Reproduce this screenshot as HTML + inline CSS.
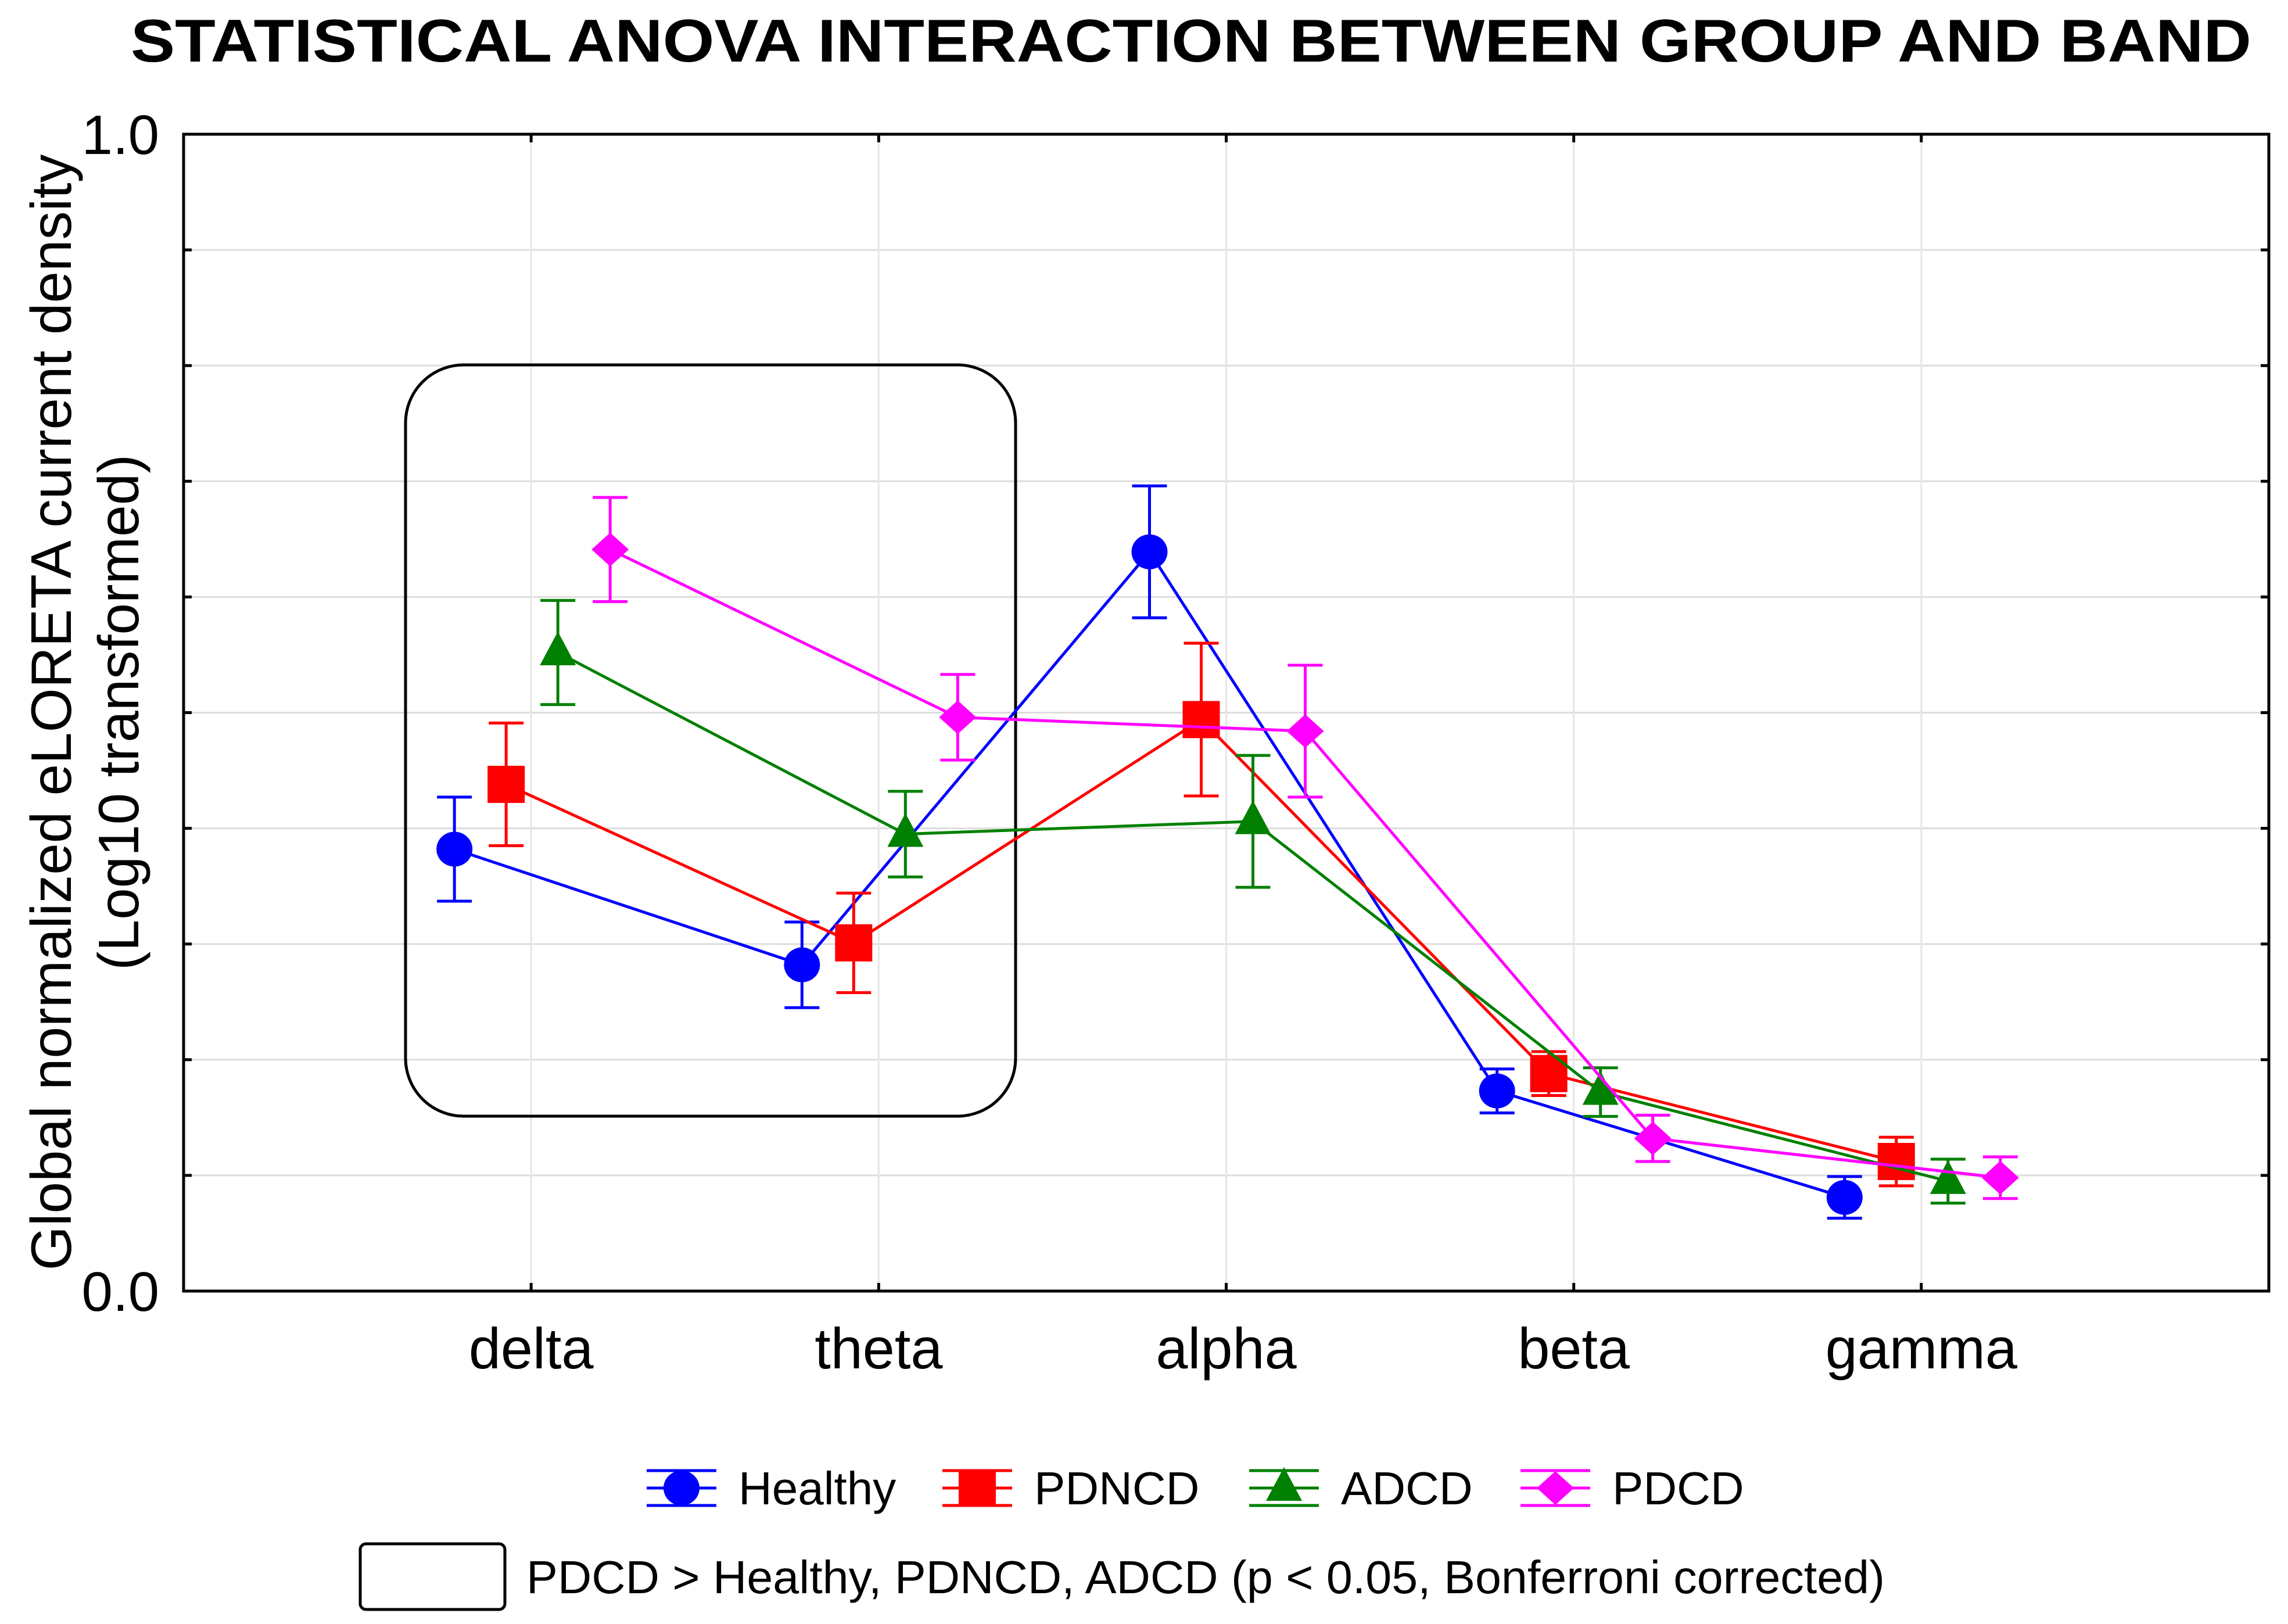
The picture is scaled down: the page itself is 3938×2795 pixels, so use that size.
<!DOCTYPE html>
<html><head><meta charset="utf-8">
<style>
html,body{margin:0;padding:0;background:#fff;}
svg{display:block;font-family:"Liberation Sans",Arial,sans-serif;}
</style></head>
<body>
<svg id="chart" width="3938" height="2795" viewBox="0 0 3938 2795" xmlns="http://www.w3.org/2000/svg">
<rect x="0" y="0" width="3938" height="2795" fill="#fff"/>
<text x="2050" y="106" text-anchor="middle" font-size="104" font-weight="bold" textLength="3650" lengthAdjust="spacingAndGlyphs">STATISTICAL ANOVA INTERACTION BETWEEN GROUP AND BAND</text>
<g id="grid"></g>
<rect x="698" y="628" width="1050" height="1293" rx="100" ry="100" fill="none" stroke="#000" stroke-width="5"/>
<g id="series"></g>
<rect x="316" y="231" width="3589" height="1991" fill="none" stroke="#000" stroke-width="5"/>
<g id="axes"></g>
<g font-size="98">
<text transform="translate(122,1226) rotate(-90)" text-anchor="middle">Global normalized eLORETA current density</text>
<text transform="translate(238,1226) rotate(-90)" text-anchor="middle">(Log10 transformed)</text>
</g>
<g id="legend"></g>
<rect x="620" y="2657" width="249" height="113" rx="10" fill="none" stroke="#000" stroke-width="5"/>
<text x="906" y="2742" font-size="80" textLength="2338" lengthAdjust="spacingAndGlyphs">PDCD &gt; Healthy, PDNCD, ADCD (p &lt; 0.05, Bonferroni corrected)</text>
</svg>
<script>
const categories = ["delta","theta","alpha","beta","gamma"];
const seriesNames = ["Healthy","PDNCD","ADCD","PDCD"];
const healthyMean = [0.382,0.282,0.639,0.173,0.081];
const healthyErr  = [0.045,0.037,0.057,0.019,0.018];
const pdncdMean   = [0.438,0.301,0.494,0.188,0.112];
const pdncdErr    = [0.053,0.043,0.066,0.019,0.021];
const adcdMean    = [0.552,0.395,0.406,0.172,0.095];
const adcdErr     = [0.045,0.037,0.057,0.021,0.019];
const pdcdMean    = [0.641,0.496,0.484,0.132,0.098];
const pdcdErr     = [0.045,0.037,0.057,0.020,0.018];
const yTickLabels = ["0.0","1.0"];

const NS="http://www.w3.org/2000/svg";
const L=316,R=3905,T=231,B=2222;
const xs=i=>L+(i+1)*(R-L)/6;
const ys=v=>B-v*(B-T);
function mk(tag,attrs,parent){const e=document.createElementNS(NS,tag);for(const k in attrs)e.setAttribute(k,attrs[k]);parent.appendChild(e);return e;}

const grid=document.getElementById('grid');
for(let k=1;k<10;k++){
  const g=mk('line',{x1:L,x2:R,y1:ys(k/10),y2:ys(k/10),stroke:'#ddd','stroke-width':3},grid);
  
  
}
categories.forEach((c,i)=>{
  const g=mk('line',{x1:xs(i),x2:xs(i),y1:T,y2:B,stroke:'#e6e6e6','stroke-width':3},grid);
  
  
});

const axes=document.getElementById('axes');
for(let k=1;k<10;k++){
  mk('line',{x1:L,x2:L+14,y1:ys(k/10),y2:ys(k/10),stroke:'#000','stroke-width':5},axes);
  mk('line',{x1:R-14,x2:R,y1:ys(k/10),y2:ys(k/10),stroke:'#000','stroke-width':5},axes);
}
categories.forEach((c,i)=>{
  mk('line',{x1:xs(i),x2:xs(i),y1:B-14,y2:B,stroke:'#000','stroke-width':5},axes);
  mk('line',{x1:xs(i),x2:xs(i),y1:T,y2:T+14,stroke:'#000','stroke-width':5},axes);
  const t=mk('text',{x:xs(i),y:2355,'text-anchor':'middle','font-size':99},axes);
  t.textContent=c;
  
  
});
yTickLabels.forEach((lab,i)=>{
  const t=mk('text',{x:274,y:ys(i)+34,'text-anchor':'end','font-size':96},axes);
  t.textContent=lab;
  
  
});

const means=[healthyMean,pdncdMean,adcdMean,pdcdMean];
const errs=[healthyErr,pdncdErr,adcdErr,pdcdErr];
const colors=['#0000ff','#ff0000','#008000','#ff00ff'];
const offsets=[-132,-43,46,136];
const shapes=['circle','square','triangle','diamond'];

function marker(shape,x,y,color,parent){
  let e;
  if(shape==='circle') e=mk('ellipse',{cx:x,cy:y,rx:31,ry:30,fill:color},parent);
  else if(shape==='square') e=mk('rect',{x:x-32,y:y-32,width:64,height:64,fill:color},parent);
  else if(shape==='triangle') e=mk('polygon',{points:`${x},${y-36} ${x+31},${y+22} ${x-31},${y+22}`,fill:color},parent);
  else e=mk('polygon',{points:`${x},${y-29} ${x+32},${y} ${x},${y+29} ${x-32},${y}`,fill:color},parent);
  return e;
}

const sg=document.getElementById('series');
means.forEach((m,s)=>{
  const g=mk('g',{},sg);
  
  
  const pts=m.map((v,i)=>`${xs(i)+offsets[s]},${ys(v)}`).join(' ');
  const pl=mk('polyline',{points:pts,fill:'none',stroke:colors[s],'stroke-width':5},g);
  
  
  m.forEach((v,i)=>{
    const x=xs(i)+offsets[s];
    const e=errs[s][i];
    const eb=mk('path',{d:`M${x},${ys(v+e)}V${ys(v-e)}M${x-30},${ys(v+e)}H${x+30}M${x-30},${ys(v-e)}H${x+30}`,stroke:colors[s],'stroke-width':5,fill:'none'},g);
    
    
    const mm=marker(shapes[s],x,ys(v),colors[s],g);
    
    
  });
});

const lg=document.getElementById('legend');
const legX=[1173,1682,2210,2677];
seriesNames.forEach((n,s)=>{
  const g=mk('g',{},lg);
  
  
  const x=legX[s],y=2561;
  mk('path',{d:`M${x-60},${y}H${x+60}M${x-60},${y-30}H${x+60}M${x-60},${y+30}H${x+60}`,stroke:colors[s],'stroke-width':5},g);
  marker(shapes[s],x,y,colors[s],g);
  const t=mk('text',{x:x+98,y:y+28,'font-size':80},g);
  t.textContent=n;
});
</script>
</body></html>
